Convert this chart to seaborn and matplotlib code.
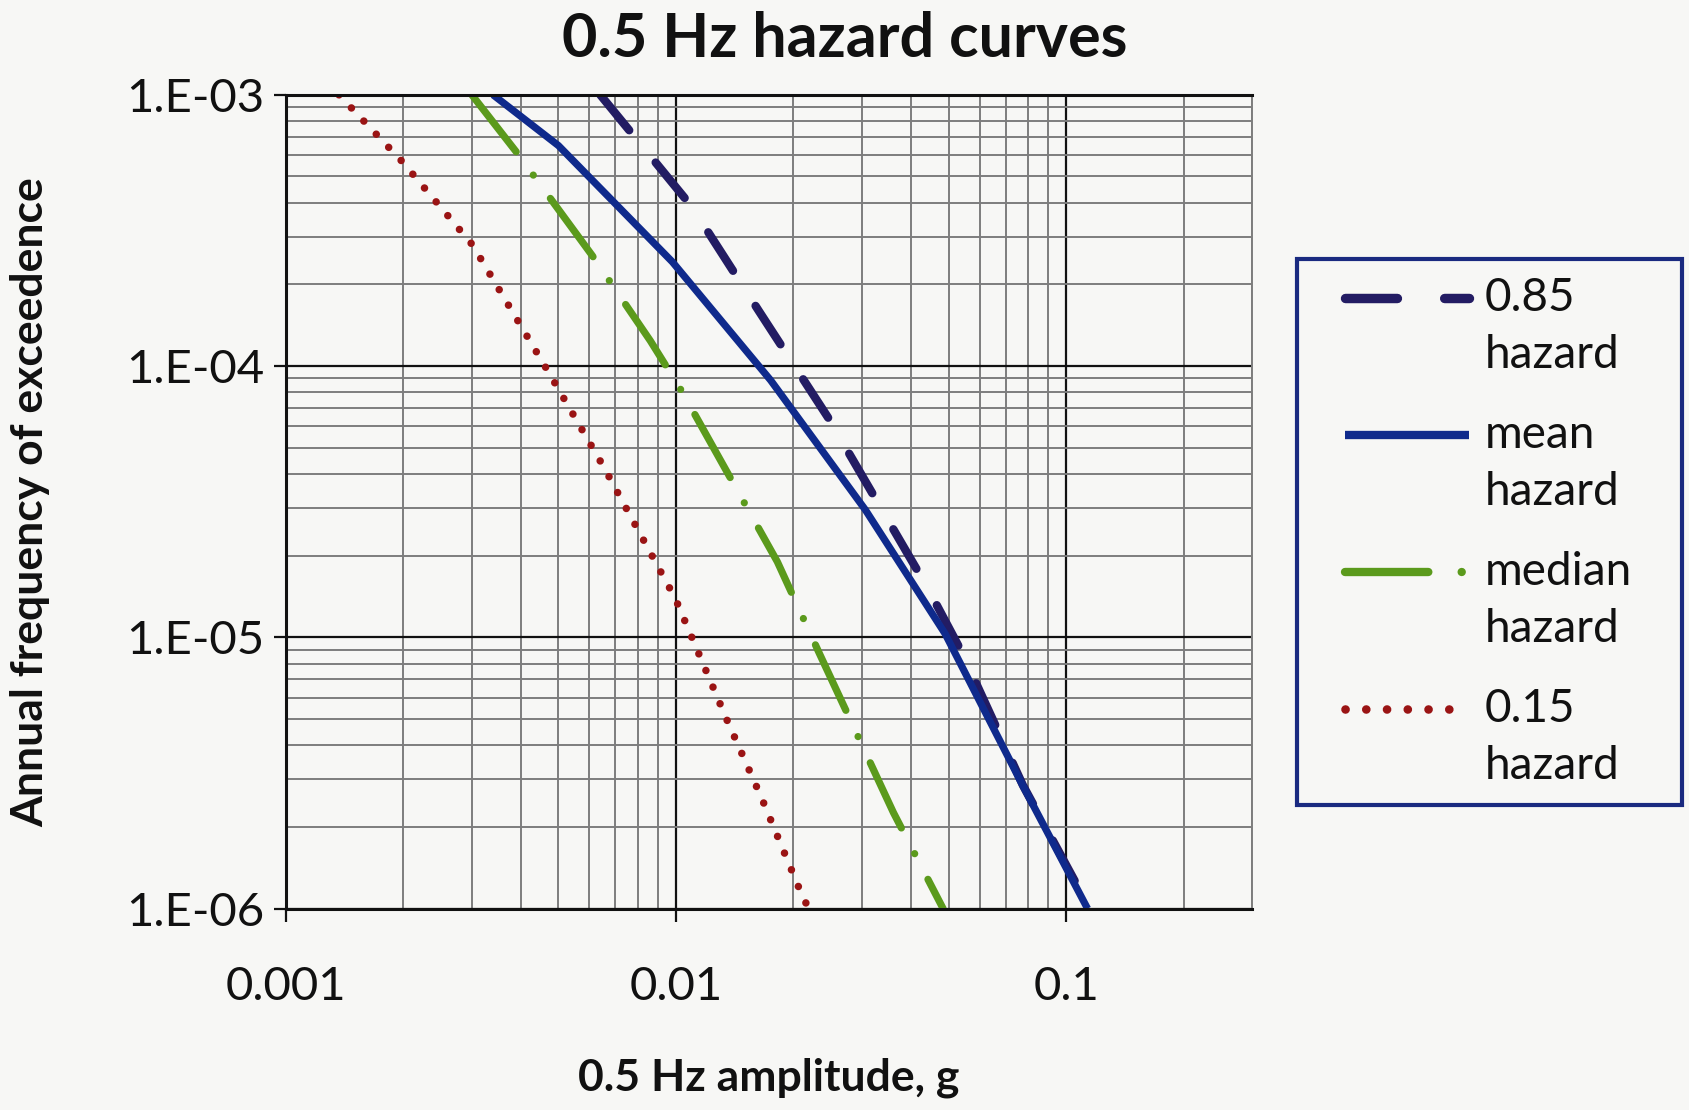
import numpy as np
import pandas as pd
import matplotlib
matplotlib.use("Agg")
import matplotlib.pyplot as plt
import seaborn as sns
from matplotlib.ticker import LogLocator, FuncFormatter, NullFormatter, FixedLocator
from matplotlib.legend_handler import HandlerLine2D

# ---- data ----
p85_x = [0.0064, 0.0110, 0.0163, 0.0246, 0.0330, 0.0443, 0.0542, 0.0775, 0.1150]
p85_y = [1.0e-3, 3.86e-4, 1.60e-4, 6.43e-5, 3.12e-5, 1.51e-5, 8.75e-6, 2.85e-6, 1.0e-6]

mean_x = [0.0034, 0.0050, 0.0098, 0.0175, 0.0306, 0.0490, 0.0770, 0.1135]
mean_y = [1.0e-3, 6.5e-4, 2.42e-4, 8.86e-5, 2.95e-5, 1.03e-5, 2.89e-6, 1.0e-6]

median_x = [0.0030, 0.0039, 0.0061, 0.0086, 0.0104, 0.0150, 0.0182, 0.0233, 0.0280, 0.0361, 0.0484]
median_y = [1.0e-3, 6.16e-4, 2.56e-4, 1.24e-4, 8.0e-5, 3.12e-5, 1.9e-5, 8.75e-6, 4.96e-6, 2.26e-6, 1.0e-6]

p15_x = [0.00137, 0.00199, 0.00301, 0.00473, 0.00655, 0.00997, 0.01352, 0.0166, 0.0210, 0.0219]
p15_y = [1.0e-3, 5.67e-4, 2.8e-4, 9.44e-5, 4.22e-5, 1.39e-5, 4.96e-6, 2.55e-6, 1.13e-6, 1.0e-6]

series_labels = ["0.85\nhazard", "mean\nhazard", "median\nhazard", "0.15\nhazard"]
x_ticks = [0.001, 0.01, 0.1]
x_tick_labels = ["0.001", "0.01", "0.1"]
y_ticks = [1e-6, 1e-5, 1e-4, 1e-3]
y_tick_labels = ["1.E-06", "1.E-05", "1.E-04", "1.E-03"]

title = "0.5 Hz hazard curves"
xlabel = "0.5 Hz amplitude, g"
ylabel = "Annual frequency of exceedence"

# ---- style ----
sns.set_theme(style="white")
plt.rcParams["font.family"] = ["Lato", "DejaVu Sans"]
bg = "#f7f7f5"

fig = plt.figure(figsize=(16.9, 11.1), dpi=100, facecolor=bg)
ax = fig.add_axes([0.169, 0.1814, 0.741 - 0.169, 0.9146 - 0.1814])
ax.set_facecolor(bg)

styles = [
    dict(color="#231c63", lw=6.0, ls=(0, (5.5, 5.0))),
    dict(color="#0f2a8c", lw=5.2, ls="-"),
    dict(color="#5b9a1c", lw=5.2, ls=(0, (10.0, 4.0, 0.01, 4.0))),
    dict(color="#9a1414", lw=5.4, ls=(0, (0.01, 2.4))),
]
data = [(p85_x, p85_y), (mean_x, mean_y), (median_x, median_y), (p15_x, p15_y)]

for (xs, ys), lab, st in zip(data, series_labels, styles):
    df = pd.DataFrame({"x": xs, "y": ys})
    sns.lineplot(data=df, x="x", y="y", ax=ax, sort=False, estimator=None,
                 color=st["color"], linewidth=st["lw"], label=lab)
    line = ax.lines[-1]
    line.set_linestyle(st["ls"])
    line.set_dash_capstyle("round")
    line.set_solid_capstyle("butt")

ax.set_xscale("log")
ax.set_yscale("log")
ax.set_xlim(1e-3, 0.3)
ax.set_ylim(1e-6, 1e-3)


def _lab(v, ticks, labels):
    i = int(np.argmin([abs(np.log10(t) - np.log10(v)) for t in ticks]))
    return labels[i]


ax.xaxis.set_major_locator(FixedLocator(x_ticks))
ax.xaxis.set_major_formatter(FuncFormatter(lambda v, p: _lab(v, x_ticks, x_tick_labels)))
ax.yaxis.set_major_locator(FixedLocator(y_ticks))
ax.yaxis.set_major_formatter(FuncFormatter(lambda v, p: _lab(v, y_ticks, y_tick_labels)))
ax.xaxis.set_minor_locator(LogLocator(base=10, subs=np.arange(2, 10)))
ax.yaxis.set_minor_locator(LogLocator(base=10, subs=np.arange(2, 10)))
ax.xaxis.set_minor_formatter(NullFormatter())
ax.yaxis.set_minor_formatter(NullFormatter())

ax.set_axisbelow(True)
ax.grid(which="minor", color="#7d7d7d", linewidth=1.4)
ax.grid(which="major", color="#111111", linewidth=1.6)

ax.tick_params(which="major", direction="out", length=9, width=1.6, color="#111111",
               labelsize=34, bottom=True, left=True, labelcolor="#111111")
ax.tick_params(axis="x", which="major", pad=32)
ax.tick_params(axis="y", which="major", pad=6)
ax.tick_params(which="minor", length=0)

for s in ["left", "bottom", "top"]:
    ax.spines[s].set_color("#111111")
    ax.spines[s].set_linewidth(2.2)
ax.spines["right"].set_color("#7d7d7d")
ax.spines["right"].set_linewidth(1.4)

ax.set_xlabel(xlabel, fontsize=32, fontweight="bold", color="#111111")
ax.set_ylabel(ylabel, fontsize=32, fontweight="bold", color="#111111")
ax.yaxis.set_label_coords(-0.243, 0.5)
ax.xaxis.set_label_coords(0.5, -0.183)
fig.text(0.5, 0.965, title, ha="center", va="center", fontsize=44, fontweight="bold", color="#111111")


class OffsetHandler(HandlerLine2D):
    """Line handle aligned with the first text line and indented from the frame."""

    def __init__(self, dx, dy, **kw):
        super().__init__(**kw)
        self.dx = dx
        self.dy = dy

    def create_artists(self, legend, orig_handle, xdescent, ydescent, width, height, fontsize, trans):
        return super().create_artists(legend, orig_handle, xdescent - self.dx, ydescent - 2 * self.dy,
                                      width - self.dx, height, fontsize, trans)


handles = ax.lines[:4]
leg = ax.legend(handles=handles, labels=series_labels,
                handler_map={h: OffsetHandler(21.5, 21) for h in handles},
                loc="upper left", bbox_to_anchor=(0.7675, 0.274, 0.995 - 0.7675, 0.767 - 0.274),
                bbox_transform=fig.transFigure, mode="expand",
                borderaxespad=0, fontsize=33, frameon=True, fancybox=False,
                handlelength=3.35, handletextpad=0.35, labelspacing=0.82,
                borderpad=0.4, facecolor=bg, framealpha=1, edgecolor="#1a2a80")
leg.get_frame().set_linewidth(3)
for t in leg.get_texts():
    t.set_linespacing(1.45)
    t.set_color("#111111")
for h, st in zip(leg.get_lines(), styles):
    h.set_linewidth(st["lw"] + 0.8)

fig.savefig("out.png", dpi=100, facecolor=bg)
